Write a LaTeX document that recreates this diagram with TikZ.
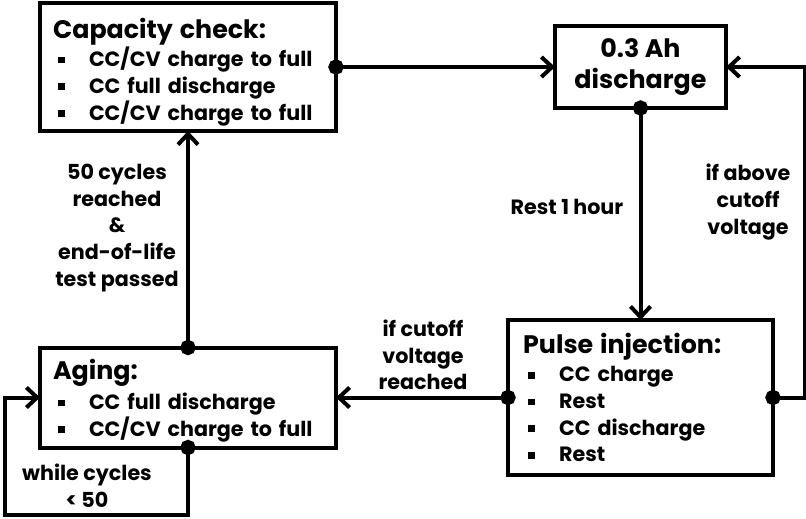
\documentclass[tikz,border=0pt]{standalone}
\usepackage{fontspec}
\setmainfont{Poppins}
\usetikzlibrary{arrows.meta}

\newcommand{\itm}[1]{\makebox[27pt][l]{\hspace*{3.75pt}\rule[2.5pt]{5pt}{5pt}}#1}
\newcommand{\boxtitle}[2][14pt]{{\fontsize{19}{21}\selectfont\rule{0pt}{#1}#2}}

\tikzset{
    stagebox/.style={draw, line width=3pt, outer sep=0pt, inner sep=0pt, align=left,
        font=\bfseries\fontsize{15.5}{20}\selectfont},
    flow/.style={line width=3pt, {Circle[length=11.5pt]}-{Straight Barb[length=8pt,width=15pt]},
        shorten <=-5.75pt},
    flowlabel/.style={align=center, font=\bfseries\fontsize{15.5}{20}\selectfont},
}

\begin{document}
\begin{tikzpicture}[x=0.75pt, y=-0.75pt]
        \useasboundingbox (0,0) rectangle (806,518);

        \node[stagebox, minimum width=222pt, minimum height=96pt, text width=202.5pt] (cap) at (188,67) {
            \boxtitle[23pt]{Capacity check:}\\[1pt]
            \itm{CC/CV charge to full}\\
            \itm{CC full discharge}\\
            \itm{CC/CV charge to full}
        };
        \node[stagebox, align=center, minimum width=128.25pt, minimum height=61.5pt,
            font=\bfseries\fontsize{19}{23}\selectfont] (dis) at (640.5,67) {0.3 Ah\\discharge};
        \node[stagebox, minimum width=198.75pt, minimum height=116.25pt, text width=176pt] (pulse) at (640.5,397.5) {
            \boxtitle[15pt]{Pulse injection:}\\[1.5pt]
            \itm{CC charge}\\
            \itm{Rest}\\
            \itm{CC discharge}\\
            \itm{Rest}
        };
        \node[stagebox, minimum width=222pt, minimum height=75pt, text width=202.5pt] (aging) at (188,397.5) {
            \boxtitle[20pt]{Aging:}\\[2.5pt]
            \itm{CC full discharge}\\
            \itm{CC/CV charge to full}
        };

        \draw[flow] (cap.east) -- (dis.west);
        \draw[flow] (dis.south) -- (pulse.north);
        \draw[flow] (pulse.east) -- ++(32,0) |- (dis.east);
        \draw[flow] (pulse.west) -- (aging.east);
        \draw[flow] (aging.north) -- (cap.south);
        \coordinate (loop) at (5,515);
        \draw[flow] (aging.south) |- (loop) |- (aging.west);

        \node[flowlabel] (restlbl) at (567,207) {Rest 1 hour};
        \node[flowlabel] (abovelbl) at (748,202) {if above\\cutoff\\voltage};
        \node[flowlabel] (cutofflbl) at (423,355) {if cutoff\\voltage\\reached};
        \node[flowlabel] (eollbl) at (117,228) {50 cycles\\reached\\\&\\end-of-life\\test passed};
        \node[flowlabel] (whilelbl) at (87,486) {while cycles\\< 50};
    \end{tikzpicture}
\end{document}
